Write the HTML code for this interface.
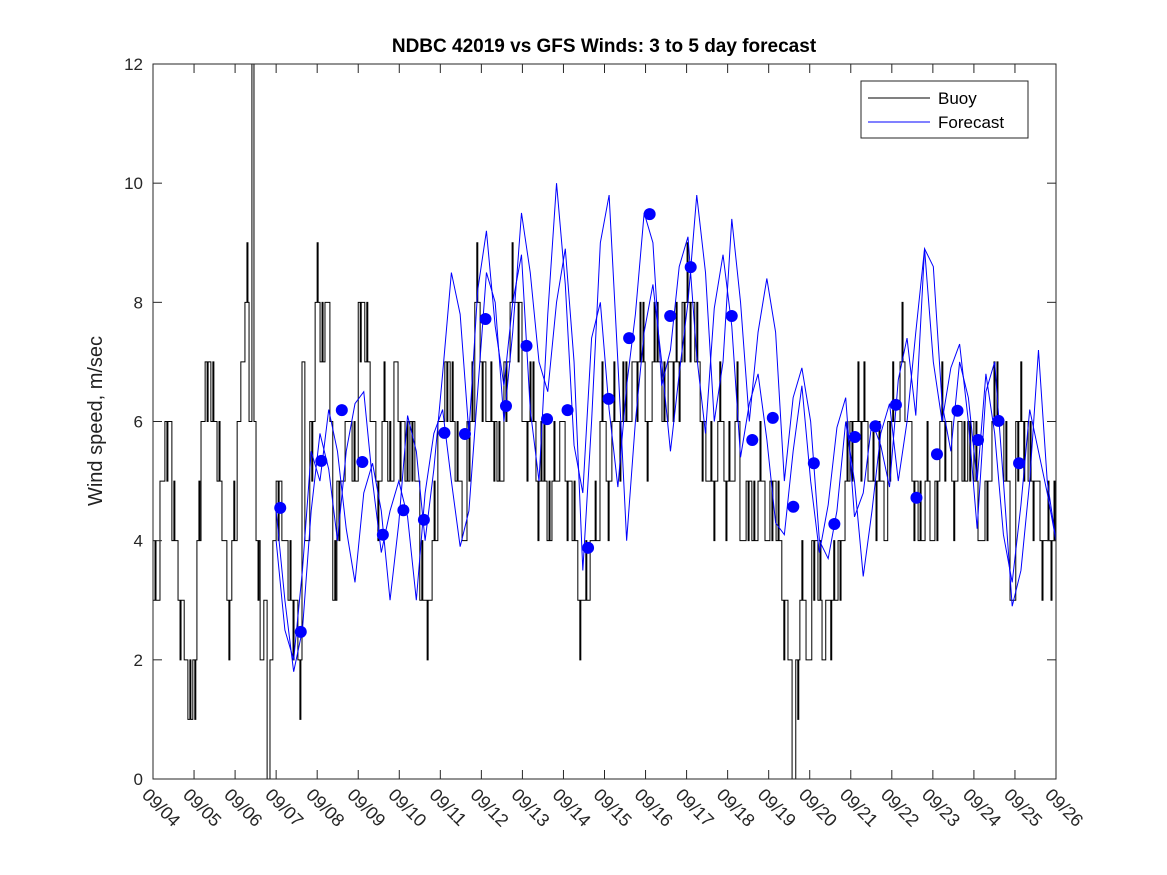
<!DOCTYPE html>
<html><head><meta charset="utf-8"><style>
body{margin:0;background:#fff;}
svg{display:block;font-family:"Liberation Sans",sans-serif;}
</style></head><body>
<svg id="chart" width="1167" height="875">
<defs><clipPath id="pc"><rect x="153" y="64" width="903" height="715"/></clipPath></defs>
<rect x="0" y="0" width="1167" height="875" fill="#fff"/>
<text x="604" y="52" text-anchor="middle" font-size="19" font-weight="bold" fill="#000">NDBC 42019 vs GFS Winds: 3 to 5 day forecast</text>
<text transform="translate(102,421) rotate(-90)" text-anchor="middle" font-size="20" fill="#222">Wind speed, m/sec</text>
<g id="plot"></g>
</svg>
<script>
const xTickLabels=["09/04","09/05","09/06","09/07","09/08","09/09","09/10","09/11","09/12","09/13","09/14","09/15","09/16","09/17","09/18","09/19","09/20","09/21","09/22","09/23","09/24","09/25","09/26"];
const yTicks=[0,2,4,6,8,10,12];
const buoyDays=[0,.17,.29,.46,.61,.76,.85,.97,1.07,1.17,1.27,1.41,1.56,1.68,1.80,1.92,2.05,2.14,2.24,2.34,2.41,2.46,2.51,2.61,2.70,2.78,2.85,2.92,3.00,3.14,3.29,3.53,3.63,3.70,3.82,3.95,4.07,4.19,4.31,4.38,4.48,4.68,4.85,5.00,5.16,5.29,5.43,5.58,5.72,5.87,5.97,6.14,6.26,6.38,6.50,6.63,6.80,6.94,7.11,7.24,7.36,7.53,7.65,7.84,7.97,8.11,8.38,8.55,8.70,8.99,9.33,9.60,9.72,9.91,10.04,10.21,10.35,10.65,10.89,11.04,11.18,11.67,11.99,12.16,12.40,12.55,12.89,13.20,13.33,13.47,13.76,13.91,14.18,14.30,14.45,14.59,14.74,14.91,15.03,15.18,15.32,15.47,15.57,15.66,15.76,15.91,16.05,16.20,16.30,16.39,16.69,16.86,16.98,17.42,17.81,17.90,18.20,18.32,18.49,18.64,18.81,18.93,19.05,19.17,19.46,19.61,19.71,19.85,20.00,20.10,20.27,20.44,20.73,20.88,21.02,21.32,21.61,22.0];
const buoyVals=[3,5,6,4,3,2,1,2,4,6,7,6,5,4,3,4,6,7,8,6,12,6,4,2,3,0,2,4,5,4,3,2,7,4,6,8,7,8,6,3,5,6,5,8,7,6,5,6,5,7,6,5,6,5,3,3,4,6,7,6,5,4,6,8,7,6,5,7,8,6,5,4,5,6,5,4,3,4,6,5,6,7,6,7,6,7,8,7,6,5,6,5,6,4,5,4,5,4,5,4,3,2,0,2,3,2,4,3,2,3,4,5,6,5,4,6,7,6,5,4,5,4,5,6,5,6,5,6,5,4,5,6,5,3,6,5,4,4];
const buoyNoise=[1,0,-1,1,-1,0,1,-1,1,0,-1,1];
const fc1=[4.5,3.0,1.8,2.5,4.5,5.8,5.2,4.0,5.5,6.3,6.5,5.0,3.8,4.5,5.0,4.4,3.0,4.8,5.8,6.2,5.0,3.9,4.5,6.5,8.5,8.0,6.0,7.5,9.5,8.5,7.0,6.5,8.0,8.9,7.0,3.5,6.0,9.0,9.8,7.0,4.0,6.0,7.5,8.3,7.0,5.5,6.8,8.0,9.8,8.5,6.0,7.0,9.4,8.0,6.0,7.5,8.4,7.5,5.0,6.4,6.9,6.0,4.0,3.7,4.5,6.0,5.0,3.4,4.5,5.8,6.3,5.0,6.0,7.5,8.9,7.0,6.0,6.9,7.3,6.0,4.2,6.5,7.0,5.0,2.9,3.5,5.0,7.2,5.0,4.0];
const fc2=[4.0,2.5,2.0,3.5,5.5,5.0,6.2,5.5,4.2,3.3,4.8,5.3,4.5,3.0,4.3,6.1,5.5,4.0,5.2,6.8,8.5,7.8,5.8,8.2,9.2,7.6,6.6,8.0,8.8,6.2,5.0,7.8,10.0,8.3,5.6,4.8,7.4,8.0,6.2,4.9,6.6,7.8,9.5,9.0,6.6,7.2,8.6,9.1,7.1,5.8,7.9,8.8,7.6,5.4,6.3,6.8,5.7,4.3,4.1,5.5,6.6,5.0,3.8,4.6,5.9,6.4,4.4,4.8,6.0,5.6,4.9,6.7,7.4,6.1,8.9,8.6,6.3,5.5,7.0,6.4,5.0,6.8,5.8,4.1,3.3,4.6,6.2,5.5,4.8,4.0];
const dotVals=[4.55,2.47,5.34,6.19,5.32,4.1,4.51,4.35,5.81,5.79,7.72,6.26,7.27,6.04,6.19,3.88,6.38,7.4,9.48,7.77,8.59,null,7.77,5.69,6.06,4.57,5.3,4.28,5.74,5.92,6.28,4.72,5.45,6.18,5.69,6.01,5.3];
const dotStartDay=3.1, dotStepDay=0.5;

const L=153,R=1056,T=64,B=779,NS="http://www.w3.org/2000/svg";
const xS=d=>L+(R-L)*d/22, yS=v=>B-(B-T)*v/12;
const g=document.getElementById('plot');
function mk(t,a,parent){const e=document.createElementNS(NS,t);for(const k in a)e.setAttribute(k,a[k]);(parent||g).appendChild(e);return e;}
const clipG=mk('g',{'clip-path':'url(#pc)'});
// buoy
let p="",n=buoyVals.length;
for(let i=0;i<n;i++){const d=buoyDays[i],v=buoyVals[i];
 p+=(i?"L":"M")+xS(d)+","+yS(v);
 if(i<n-1){const d2=buoyDays[i+1];const x1=xS(d),x2=xS(d2);
  let k=0;
  for(let x=x1+2;x<x2-2;x+=3,k++){const nz=buoyNoise[(i+k)%buoyNoise.length];
   if(nz){p+="L"+x+","+yS(v)+"L"+x+","+yS(v+nz)+"L"+(x+1)+","+yS(v+nz)+"L"+(x+1)+","+yS(v);}}
  p+="L"+x2+","+yS(v);}}
const bl=mk('path',{d:p,fill:'none',stroke:'#000','stroke-width':1},clipG);


[fc1,fc2].forEach((arr,k)=>{let q="";arr.forEach((v,i)=>{q+=(i?"L":"M")+xS(3+19*i/(arr.length-1))+","+yS(v);});
 const fl=mk('path',{d:q,fill:'none',stroke:'#00f','stroke-width':1},clipG);
 
 });
dotVals.forEach((v,i)=>{if(v==null)return;
 const c=mk('circle',{cx:xS(dotStartDay+i*dotStepDay),cy:yS(v),r:6,fill:'#00f'});
 
 });
const box=mk('rect',{x:L,y:T,width:R-L,height:B-T,fill:'none',stroke:'#262626','stroke-width':1});


yTicks.forEach(v=>{const y=yS(v);
 mk('line',{x1:L,x2:L+9,y1:y,y2:y,stroke:'#262626'});mk('line',{x1:R,x2:R-9,y1:y,y2:y,stroke:'#262626'});
 const t=mk('text',{x:L-10,y:y+6,'text-anchor':'end','font-size':17,fill:'#262626'});t.textContent=v;
 
 });
xTickLabels.forEach((s,i)=>{const x=xS(i);
 mk('line',{x1:x,x2:x,y1:B,y2:B-9,stroke:'#262626'});mk('line',{x1:x,x2:x,y1:T,y2:T+9,stroke:'#262626'});
 const t=mk('text',{transform:`translate(${x-12},${B+17}) rotate(45)`,'font-size':18,fill:'#262626'});t.textContent=s;
 
 });
const lg=mk('rect',{x:861,y:81,width:167,height:57,fill:'#fff',stroke:'#262626'});


mk('line',{x1:868,x2:930,y1:98,y2:98,stroke:'#000'});
mk('line',{x1:868,x2:930,y1:122,y2:122,stroke:'#00f'});
const t1=mk('text',{x:938,y:104,'font-size':17,fill:'#000'});t1.textContent="Buoy";


const t2=mk('text',{x:938,y:128,'font-size':17,fill:'#000'});t2.textContent="Forecast";


</script>
</body></html>
